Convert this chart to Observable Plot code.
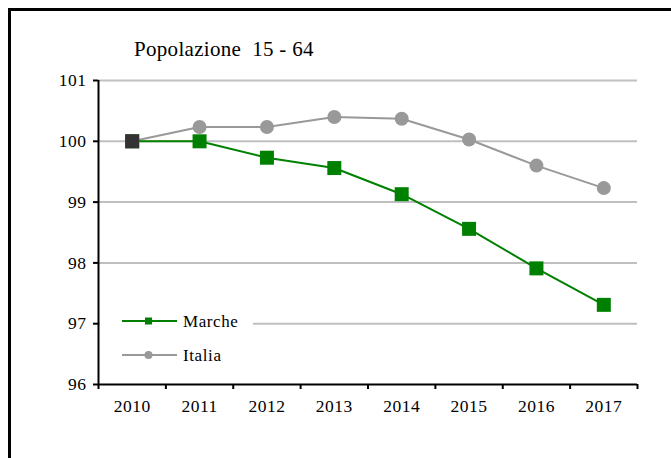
<!DOCTYPE html>
<html><head><meta charset="utf-8">
<script src="https://cdn.jsdelivr.net/npm/d3@7"></script>
<script src="https://cdn.jsdelivr.net/npm/@observablehq/plot@0.6"></script>
<style>
body{margin:0;background:#fff;font-family:"Liberation Serif",serif;}
#wrap{position:relative;width:671px;height:458px;overflow:hidden;background:#fff;}
#chart{position:absolute;left:0;top:0;}
#frame{position:absolute;left:8px;top:8px;width:700px;height:500px;border-left:3px solid #000;border-top:3px solid #000;}
#title{position:absolute;left:134px;top:39px;font-size:21px;line-height:21px;letter-spacing:0.3px;white-space:pre;color:#000;}
#legend{position:absolute;left:100px;top:306px;width:153px;height:66px;background:#fff;}
#legend .lt{position:absolute;left:83px;font-size:17px;line-height:17px;letter-spacing:0.6px;white-space:pre;color:#000;}
</style>
</head><body>
<div id="wrap">
  <div id="frame"></div>
  <div id="chart"></div>
  <div id="title">Popolazione  15 - 64</div>
  <div id="legend">
    <svg width="153" height="66" style="position:absolute;left:0;top:0">
      <line x1="22" x2="77" y1="15" y2="15" stroke="#008000" stroke-width="2"/>
      <rect x="45" y="11.5" width="7" height="7" fill="#008000"/>
      <line x1="22" x2="77" y1="49" y2="49" stroke="#999999" stroke-width="2"/>
      <circle cx="48.5" cy="49" r="4" fill="#999999"/>
    </svg>
    <div class="lt" style="top:7px">Marche</div>
    <div class="lt" style="top:41px">Italia</div>
  </div>
</div>
<script>
const years = [2010, 2011, 2012, 2013, 2014, 2015, 2016, 2017];
const marche = [100, 100, 99.73, 99.56, 99.13, 98.56, 97.91, 97.31];
const italia = [100, 100.235, 100.235, 100.40, 100.37, 100.03, 99.60, 99.23];
const yTicks = [96, 97, 98, 99, 100, 101];
const gridTicks = [97, 98, 99, 100, 101];

const rows = (vals) => years.map((yr, i) => ({pos: i + 0.5, year: yr, value: vals[i]}));
const marcheRows = rows(marche);
const italiaRows = rows(italia);
const bandEdges = d3.range(years.length + 1);
const bandCenters = years.map((_, i) => i + 0.5);

const chart = Plot.plot({
  width: 671, height: 458,
  marginLeft: 98, marginRight: 34, marginTop: 80, marginBottom: 74,
  style: {fontFamily: "Liberation Serif", fontSize: "17.5px", color: "#000", background: "transparent", letterSpacing: "0.5px"},
  x: {type: "linear", domain: [0, years.length], label: null},
  y: {domain: [96, 101], label: null},
  marks: [
    Plot.ruleY(gridTicks, {stroke: "#c0c0c0", strokeWidth: 2}),
    Plot.ruleX([0], {stroke: "#000", strokeWidth: 2}),
    Plot.ruleY([96], {stroke: "#000", strokeWidth: 2}),
    Plot.axisY({ticks: yTicks, tickSize: 5, tickPadding: 7, strokeWidth: 2, tickFormat: d => String(d), label: null}),
    Plot.axisX({ticks: bandEdges, tickSize: 5, strokeWidth: 2, tickFormat: () => "", label: null}),
    Plot.axisX({ticks: bandCenters, tickSize: 0, tickPadding: 15, tickFormat: d => String(years[Math.floor(d)]), label: null}),
    Plot.line(italiaRows, {x: "pos", y: "value", stroke: "#999999", strokeWidth: 2}),
    Plot.line(marcheRows, {x: "pos", y: "value", stroke: "#008000", strokeWidth: 2}),
    Plot.dot(italiaRows, {x: "pos", y: "value", r: 7, fill: "#999999"}),
    Plot.dot(marcheRows, {x: "pos", y: "value", symbol: "square", r: 7.9, fill: "#008000"}),
    Plot.dot(marcheRows.slice(0, 1), {x: "pos", y: "value", symbol: "square", r: 7.9, fill: "#333333"})
  ]
});
document.getElementById("chart").appendChild(chart);
</script>
</body></html>
